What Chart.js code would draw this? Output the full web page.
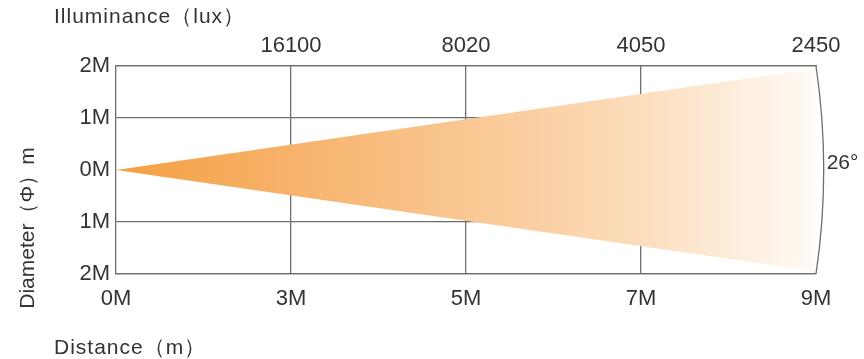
<!DOCTYPE html>
<html>
<head>
<meta charset="utf-8">
<script src="https://cdn.jsdelivr.net/npm/chart.js@4/dist/chart.umd.min.js"></script>
<style>
    html, body { margin: 0; padding: 0; background: #fff; }
    #wrap { width: 864px; height: 359px; }
</style>
</head>
<body>
<div id="wrap"><canvas id="beamChart"></canvas></div>
<script>
const distLabels = ['0M', '3M', '5M', '7M', '9M'];
const luxLabels = ['', '16100', '8020', '4050', '2450'];
const beamEdge = [0, 1.95];       // half diameter at 0M and at 9M
const beamAngle = '26°';

const textColor = '#333';
const lineColor = '#6e6e6e';
const font = { family: 'Liberation Sans, Arial, sans-serif', size: 22 };

const topEdge = [{ x: 0, y: beamEdge[0] }, { x: 4, y: beamEdge[1] }];
const bottomEdge = [{ x: 0, y: -beamEdge[0] }, { x: 4, y: -beamEdge[1] }];

function beamGradient(context) {
    const area = context.chart.chartArea;
    if (!area) return '#F4A041';
    const g = context.chart.ctx.createLinearGradient(area.left, 0, area.right, 0);
    g.addColorStop(0, '#F4A041');
    g.addColorStop(0.25, '#F7B26B');
    g.addColorStop(0.5, '#F9C792');
    g.addColorStop(0.75, '#FCDDBC');
    g.addColorStop(1, '#FFFBF7');
    return g;
}

// titles, angle arc and label drawn on top
const extras = {
    id: 'extras',
    afterDraw(chart) {
        const ctx = chart.ctx;
        const x = chart.scales.x, y = chart.scales.y;
        const cx = x.getPixelForValue(0), cy = y.getPixelForValue(0);
        const ex = x.getPixelForValue(4), ey = y.getPixelForValue(2);
        const r = Math.hypot(ex - cx, ey - cy);
        const a = Math.atan2(ey - cy, ex - cx);
        ctx.save();
        ctx.strokeStyle = lineColor;
        ctx.lineWidth = 1.3;
        ctx.beginPath();
        ctx.arc(cx, cy, r, a, -a);
        ctx.stroke();

        ctx.fillStyle = textColor;
        ctx.font = '21px ' + font.family;
        ctx.textBaseline = 'middle';
        ctx.textAlign = 'left';
        ctx.fillText(beamAngle, cx + r + 3, cy - 7);

        ctx.font = '21px ' + font.family;
        ctx.letterSpacing = '1px';
        ctx.fillText('Illuminance（lux）', 54, 17);
        ctx.fillText('Distance（m）', 54, 348);

        ctx.translate(28, 228);
        ctx.rotate(-Math.PI / 2);
        ctx.textAlign = 'center';
        ctx.letterSpacing = '0px';
        ctx.fillText('Diameter（Φ）m', 0, 0);
        ctx.restore();
    }
};

new Chart(document.getElementById('beamChart'), {
    type: 'line',
    data: {
        datasets: [
            {
                data: topEdge,
                borderWidth: 0,
                pointRadius: 0,
                fill: '+1',
                backgroundColor: beamGradient
            },
            {
                data: bottomEdge,
                borderWidth: 0,
                pointRadius: 0,
                fill: false
            }
        ]
    },
    options: {
        responsive: true,
        maintainAspectRatio: false,
        animation: false,
        layout: { padding: { left: 0, right: 48, top: 0, bottom: 0 } },
        plugins: { legend: { display: false }, tooltip: { enabled: false } },
        scales: {
            x: {
                type: 'linear',
                min: 0,
                max: 4,
                afterBuildTicks: s => { s.ticks = distLabels.map((l, i) => ({ value: i })); },
                afterFit: s => { s.height = 85; },
                ticks: {
                    color: textColor,
                    font: font,
                    padding: 12,
                    callback: (v) => distLabels[v]
                },
                grid: {
                    drawTicks: false,
                    lineWidth: 1.3,
                    color: c => (c.index === 0 || c.index === 4) ? 'rgba(0,0,0,0)' : lineColor
                },
                border: { display: true, color: lineColor, width: 1.3 }
            },
            x2: {
                type: 'linear',
                position: 'top',
                min: 0,
                max: 4,
                afterBuildTicks: s => { s.ticks = luxLabels.map((l, i) => ({ value: i })); },
                afterFit: s => { s.height = 66; },
                ticks: {
                    color: textColor,
                    font: font,
                    padding: 7,
                    callback: (v) => luxLabels[v]
                },
                grid: { display: false, drawTicks: false },
                border: { display: true, color: lineColor, width: 1.3 }
            },
            y: {
                min: -2,
                max: 2,
                afterFit: s => { s.width = 116; },
                ticks: {
                    stepSize: 1,
                    color: textColor,
                    font: font,
                    padding: 6,
                    callback: v => Math.abs(v) + 'M'
                },
                grid: {
                    drawTicks: false,
                    lineWidth: 1.3,
                    color: c => c.tick.value === 0 ? 'rgba(0,0,0,0)' : lineColor
                },
                border: { display: true, color: lineColor, width: 1.3 }
            }
        }
    },
    plugins: [extras]
});
</script>
</body>
</html>
